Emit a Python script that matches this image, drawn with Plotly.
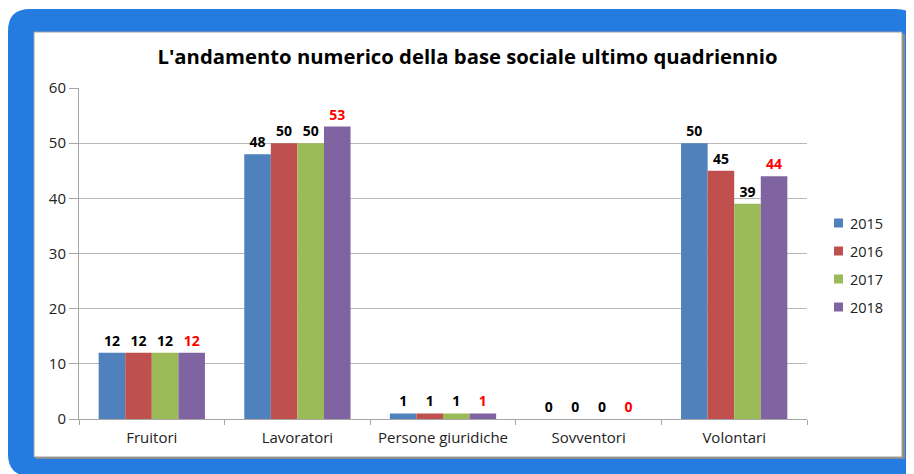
import plotly.graph_objects as go

categories = ["Fruitori", "Lavoratori", "Persone giuridiche", "Sovventori", "Volontari"]
years = ["2015", "2016", "2017", "2018"]
values = {
    "2015": [12, 48, 1, 0, 50],
    "2016": [12, 50, 1, 0, 45],
    "2017": [12, 50, 1, 0, 39],
    "2018": [12, 53, 1, 0, 44],
}
colors = {"2015": "#4F81BD", "2016": "#C0504D", "2017": "#9BBB59", "2018": "#8064A2"}
label_colors = {"2015": "black", "2016": "black", "2017": "black", "2018": "#FF0000"}

# the page body has an 8px margin, so the figure is drawn 8px in from the window edge
OFF = 8
W, H = 914, 474
L, R, T, B = 79 - OFF, 807 - OFF, 88 - OFF, 419 - OFF  # plot area in figure pixels
FONT = "Open Sans, Liberation Sans, sans-serif"


def px(x):
    """Window pixel x -> paper x."""
    return (x - OFF - L) / (R - L)


def py(y):
    """Window pixel y -> paper y."""
    return (B - (y - OFF)) / (B - T)


def rounded(x0, y0, x1, y1, r):
    return (f"M {px(x0 + r)} {py(y0)} L {px(x1 - r)} {py(y0)} "
            f"Q {px(x1)} {py(y0)} {px(x1)} {py(y0 + r)} L {px(x1)} {py(y1 - r)} "
            f"Q {px(x1)} {py(y1)} {px(x1 - r)} {py(y1)} L {px(x0 + r)} {py(y1)} "
            f"Q {px(x0)} {py(y1)} {px(x0)} {py(y1 - r)} L {px(x0)} {py(y0 + r)} "
            f"Q {px(x0)} {py(y0)} {px(x0 + r)} {py(y0)} Z")


fig = go.Figure()
for yr in years:
    fig.add_trace(go.Bar(
        x=categories, y=values[yr], name=yr, showlegend=False,
        marker=dict(color=colors[yr], line=dict(width=0)),
        text=values[yr], texttemplate="<b>%{text}</b>", textposition="outside",
        textfont=dict(family=FONT, size=14, color=label_colors[yr]),
        cliponaxis=False,
    ))

shapes = [
    dict(type="path", xref="paper", yref="paper", layer="below",
         path=rounded(8, 9, 918, 476, 22), fillcolor="#247BE0", line=dict(width=0)),
    dict(type="rect", xref="paper", yref="paper", layer="below",
         x0=px(36), x1=px(905), y0=py(34), y1=py(459),
         fillcolor="#8a8a8a", line=dict(width=0)),
    dict(type="rect", xref="paper", yref="paper", layer="below",
         x0=px(34), x1=px(902), y0=py(32), y1=py(457),
         fillcolor="white", line=dict(color="#a0a0a0", width=1)),
]

# legend drawn by hand: small squares with the year beside them
annotations = []
for i, yr in enumerate(years):
    yc = 223 + 28 * i
    shapes.append(dict(type="rect", xref="paper", yref="paper",
                       x0=px(834), x1=px(843), y0=py(yc + 4.5), y1=py(yc - 4.5),
                       fillcolor=colors[yr], line=dict(width=0)))
    annotations.append(dict(text=yr, xref="paper", yref="paper", x=px(848), y=py(yc),
                            xanchor="left", yanchor="middle", showarrow=False,
                            font=dict(family=FONT, size=14.5, color="#222")))

fig.update_layout(
    width=W, height=H,
    margin=dict(l=L, r=W - R, t=T, b=H - B, pad=0),
    paper_bgcolor="white", plot_bgcolor="rgba(0,0,0,0)",
    barmode="group", bargap=0.27, bargroupgap=0,
    font=dict(family=FONT, size=14, color="#222"),
    title=dict(text="<b>L'andamento numerico della base sociale ultimo quadriennio</b>",
               x=(467.5 - OFF) / W, xanchor="center", y=1 - (57 - OFF) / H, yanchor="middle",
               font=dict(family=FONT, size=20.3, color="black")),
    shapes=shapes,
    annotations=annotations,
    showlegend=False,
)
fig.update_xaxes(type="category", showline=True, linecolor="#a6a6a6", linewidth=1,
                 ticks="outside", tickson="boundaries", ticklen=5, tickcolor="#a6a6a6",
                 ticklabelstandoff=5,
                 showgrid=False, tickfont=dict(size=15, color="#222"))
fig.update_yaxes(range=[0, 60], dtick=10, showline=True, linecolor="#a6a6a6", linewidth=1,
                 ticks="outside", ticklen=9, tickcolor="#a6a6a6",
                 showgrid=True, gridcolor="#b8b8b8", zeroline=False,
                 tickfont=dict(size=15, color="#222"))

fig.write_html("out.html")
